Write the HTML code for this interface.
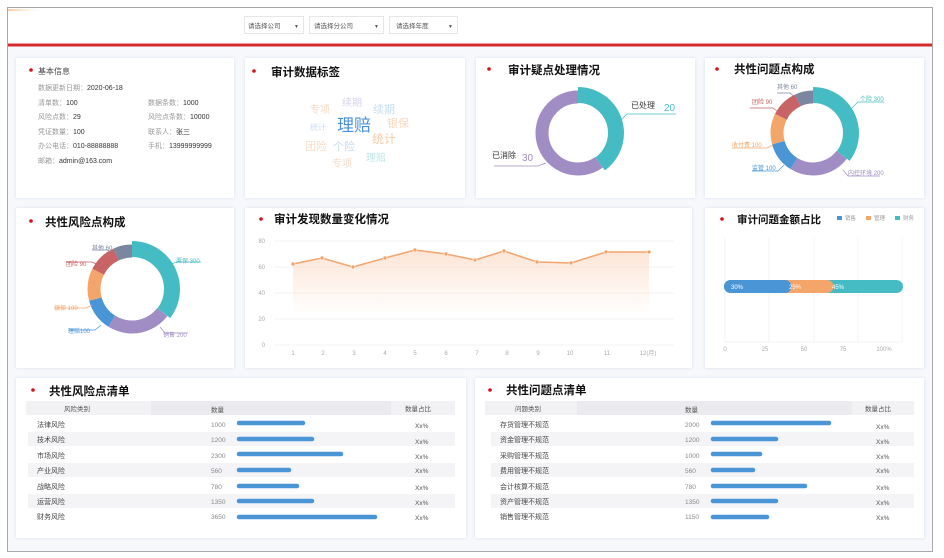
<!DOCTYPE html>
<html><head><meta charset="utf-8"><style>
html,body{margin:0;padding:0;background:#fff;width:944px;height:558px;overflow:hidden}
svg{display:block}
text{font-family:"Liberation Sans","Noto Sans CJK SC",sans-serif}
</style></head><body>
<svg width="944" height="558" viewBox="0 0 944 558" xmlns="http://www.w3.org/2000/svg">
<defs>
<linearGradient id="ag" x1="0" y1="0" x2="0" y2="1"><stop offset="0" stop-color="#f7b58a" stop-opacity="0.35"/><stop offset="1" stop-color="#f7b58a" stop-opacity="0"/></linearGradient>
<linearGradient id="hg" x1="0" y1="0" x2="1" y2="0"><stop offset="0" stop-color="#f6c9a0"/><stop offset="1" stop-color="#fff" stop-opacity="0"/></linearGradient>
<filter id="sh" x="-5%" y="-5%" width="110%" height="110%"><feDropShadow dx="0" dy="0" stdDeviation="1.5" flood-color="#c8d2e8" flood-opacity="0.7"/></filter>
</defs>
<rect x="0" y="0" width="944" height="558" fill="#fff"/>
<rect x="7.5" y="7.5" width="925" height="544" fill="#f7f8fb" stroke="#a8a8a8"/>
<rect x="8" y="8" width="924" height="36" fill="#fff"/>
<rect x="8" y="9" width="40" height="2" fill="url(#hg)"/>
<rect x="8" y="43.5" width="924" height="3" fill="#d42b2f"/>
<!-- selects -->
<g font-size="6.5" fill="#555">
<rect x="244.5" y="16.5" width="59" height="17" fill="#fff" stroke="#e6e6e6"/><text x="248" y="28">请选择公司</text><text x="294" y="28" font-size="5">▼</text>
<rect x="309.5" y="16.5" width="74" height="17" fill="#fff" stroke="#e6e6e6"/><text x="314" y="28">请选择分公司</text><text x="374" y="28" font-size="5">▼</text>
<rect x="389.5" y="16.5" width="68" height="17" fill="#fff" stroke="#e6e6e6"/><text x="396" y="28">请选择年度</text><text x="448" y="28" font-size="5">▼</text>
</g>
<!-- cards -->
<g fill="#fff" filter="url(#sh)">
<rect x="16" y="58" width="218" height="140"/>
<rect x="245" y="58" width="220" height="140"/>
<rect x="476" y="58" width="219" height="140"/>
<rect x="705" y="58" width="219" height="140"/>
<rect x="16" y="208" width="218" height="160"/>
<rect x="245" y="208" width="447" height="160"/>
<rect x="705" y="208" width="219" height="160"/>
<rect x="16" y="378" width="450" height="160"/>
<rect x="475" y="378" width="449" height="160"/>
</g>
<!-- titles -->
<g fill="#d0121b">
<circle cx="31" cy="70" r="1.8"/><circle cx="254" cy="71" r="1.8"/><circle cx="489" cy="69" r="1.8"/><circle cx="717" cy="69" r="1.8"/>
<circle cx="31" cy="221" r="1.8"/><circle cx="261" cy="219" r="1.8"/><circle cx="722" cy="219" r="1.8"/>
<circle cx="33" cy="390" r="1.8"/><circle cx="490" cy="390" r="1.8"/>
</g>
<g font-weight="bold" fill="#111" font-size="11.5">
<text x="271" y="76">审计数据标签</text>
<text x="508" y="74">审计疑点处理情况</text>
<text x="734" y="73">共性问题点构成</text>
<text x="45" y="226">共性风险点构成</text>
<text x="274" y="223">审计发现数量变化情况</text>
<text x="737" y="223" font-size="10.5">审计问题金额占比</text>
<text x="49" y="395">共性风险点清单</text>
<text x="506" y="394">共性问题点清单</text>
</g>
<!-- basic info -->
<g font-size="7" fill="#999">
<text x="38" y="74" font-size="8" fill="#444">基本信息</text>
<text x="38" y="90">数据更新日期：<tspan fill="#333">2020-06-18</tspan></text>
<text x="38" y="105">清单数：<tspan fill="#333">100</tspan></text>
<text x="148" y="105">数据条数：<tspan fill="#333">1000</tspan></text>
<text x="38" y="119">风险点数：<tspan fill="#333">29</tspan></text>
<text x="148" y="119">风险点条数：<tspan fill="#333">10000</tspan></text>
<text x="38" y="134">凭证数量：<tspan fill="#333">100</tspan></text>
<text x="148" y="134">联系人：<tspan fill="#333">张三</tspan></text>
<text x="38" y="148">办公电话：<tspan fill="#333">010-88888888</tspan></text>
<text x="148" y="148">手机：<tspan fill="#333">13999999999</tspan></text>
<text x="38" y="163">邮箱：<tspan fill="#333">admin@163.com</tspan></text>
</g>
<!-- word cloud -->
<g>
<text x="342" y="106" font-size="10" fill="#d7d2ec">续期</text>
<text x="373" y="113" font-size="11" fill="#c6dcf2">续期</text>
<text x="310" y="113" font-size="10" fill="#f8dcc6">专项</text>
<text x="387" y="127" font-size="11" fill="#f8d8c0">银保</text>
<text x="310" y="130" font-size="8" fill="#c9dcf3">统计</text>
<text x="337" y="131" font-size="17" fill="#4a90d9">理赔</text>
<text x="372" y="143" font-size="12" fill="#f6cba8">统计</text>
<text x="305" y="150" font-size="11" fill="#f9dcc6">团险</text>
<text x="333" y="150" font-size="11" fill="#c6dcf3">个险</text>
<text x="366" y="161" font-size="10" fill="#bfe5e6">理赔</text>
<text x="332" y="167" font-size="10" fill="#f9dcc6">专项</text>
</g>
<!-- donut 1 -->
<g transform="translate(578,133) rotate(-90)" fill="none">
<circle r="36" stroke="#a08dc4" stroke-width="13" stroke-dasharray="135.7 226.2" stroke-dashoffset="-90.5"/>
<circle r="38" stroke="#45bcc4" stroke-width="16" stroke-dasharray="95.5 238.8" stroke-dashoffset="0"/>
</g>
<g fill="none" stroke-width="0.8">
<polyline points="619,122 627,114 676,114" stroke="#45bcc4"/>
<polyline points="546,163 538,166 494,166" stroke="#a08dc4"/>
</g>
<text x="631" y="108" font-size="8" fill="#333">已处理</text>
<text x="664" y="111" font-size="10" fill="#45bcc4">20</text>
<text x="492" y="158" font-size="8" fill="#333">已消除</text>
<text x="522" y="161" font-size="10" fill="#a08dc4">30</text>
<!-- donut 2 -->
<g transform="translate(813,133) rotate(-90)" fill="none" stroke-width="13">
<circle r="36" stroke="#a08dc4" stroke-dasharray="53.2 226.2" stroke-dashoffset="-79.8"/>
<circle r="36" stroke="#4a95d6" stroke-dasharray="26.6 226.2" stroke-dashoffset="-133"/>
<circle r="36" stroke="#f4a66a" stroke-dasharray="26.6 226.2" stroke-dashoffset="-159.6"/>
<circle r="36" stroke="#c96466" stroke-dasharray="24 226.2" stroke-dashoffset="-186.2"/>
<circle r="36" stroke="#7b86a0" stroke-dasharray="16 226.2" stroke-dashoffset="-210.2"/>
<circle r="38" stroke="#45bcc4" stroke-width="16" stroke-dasharray="84.3 238.8" stroke-dashoffset="0"/>
</g>
<g fill="none" stroke-width="0.7">
<polyline points="852,108 858,102 884,102" stroke="#45bcc4"/>
<polyline points="843,170 848,176 880,176" stroke="#a08dc4"/>
<polyline points="784,165 778,171 752,171" stroke="#4a95d6"/>
<polyline points="773,145 767,148 732,148" stroke="#f4a66a"/>
<polyline points="778,112 773,108 750,108" stroke="#c96466"/>
<polyline points="795,97 790,93 777,93" stroke="#7b86a0"/>
</g>
<g font-size="6">
<text x="860" y="101" fill="#45bcc4">个险 300</text>
<text x="848" y="175" fill="#a08dc4">内控环境 200</text>
<text x="752" y="170" fill="#4a95d6">监管 100</text>
<text x="732" y="147" fill="#f4a66a">收付费 100</text>
<text x="752" y="104" fill="#c96466">团险 90</text>
<text x="777" y="89" fill="#7b86a0">其他 60</text>
</g>
<!-- donut 3 -->
<g transform="translate(132,289) rotate(-90)" fill="none" stroke-width="13">
<circle r="38" stroke="#a08dc4" stroke-dasharray="56.2 238.8" stroke-dashoffset="-84.3"/>
<circle r="38" stroke="#4a95d6" stroke-dasharray="28.1 238.8" stroke-dashoffset="-140.5"/>
<circle r="38" stroke="#f4a66a" stroke-dasharray="28.1 238.8" stroke-dashoffset="-168.6"/>
<circle r="38" stroke="#c96466" stroke-dasharray="25.3 238.8" stroke-dashoffset="-196.7"/>
<circle r="38" stroke="#7b86a0" stroke-dasharray="16.9 238.8" stroke-dashoffset="-222"/>
<circle r="40" stroke="#45bcc4" stroke-width="16" stroke-dasharray="88.7 251.3" stroke-dashoffset="0"/>
</g>
<g fill="none" stroke-width="0.7">
<polyline points="171,264 177,262 201,262" stroke="#45bcc4"/>
<polyline points="160,327 165,333 188,333" stroke="#a08dc4"/>
<polyline points="101,325 95,330 68,330" stroke="#4a95d6"/>
<polyline points="92,305 86,308 54,308" stroke="#f4a66a"/>
<polyline points="98,265 92,262 66,262" stroke="#c96466"/>
<polyline points="113,252 107,250 92,250" stroke="#7b86a0"/>
</g>
<g font-size="6">
<text x="176" y="263" fill="#45bcc4">渠保 300</text>
<text x="163" y="337" fill="#a08dc4">销售 200</text>
<text x="68" y="333" fill="#4a95d6">理赔100</text>
<text x="54" y="310" fill="#f4a66a">银保 100</text>
<text x="66" y="266" fill="#c96466">团险 90</text>
<text x="92" y="250" fill="#7b86a0">其他 60</text>
</g>
<!-- line chart -->
<g stroke="#eef0f3" stroke-width="0.8">
<line x1="274" y1="241" x2="674" y2="241"/><line x1="274" y1="267" x2="674" y2="267"/><line x1="274" y1="293" x2="674" y2="293"/><line x1="274" y1="319" x2="674" y2="319"/><line x1="274" y1="345" x2="674" y2="345"/>
</g>
<g font-size="6" fill="#aaa" text-anchor="end">
<text x="265" y="243">80</text><text x="265" y="269">60</text><text x="265" y="295">40</text><text x="265" y="321">20</text><text x="265" y="347">0</text>
</g>
<g font-size="6" fill="#aaa" text-anchor="middle">
<text x="293" y="355">1</text><text x="323" y="355">2</text><text x="354" y="355">3</text><text x="385" y="355">4</text><text x="415" y="355">5</text><text x="446" y="355">6</text><text x="477" y="355">7</text><text x="507" y="355">8</text><text x="538" y="355">9</text><text x="570" y="355">10</text><text x="607" y="355">11</text><text x="648" y="355">12(月)</text>
</g>
<polygon fill="url(#ag)" points="293,264 322,258 353,267 385,258 415,250 446,254 475,260 504,251 537,262 571,263 606,252 649,252 649,315 293,315"/>
<polyline fill="none" stroke="#f4a36a" stroke-width="1.5" points="293,264 322,258 353,267 385,258 415,250 446,254 475,260 504,251 537,262 571,263 606,252 649,252"/>
<g fill="#f4a36a" stroke="#fff" stroke-width="0.6">
<circle cx="293" cy="264" r="2"/><circle cx="322" cy="258" r="2"/><circle cx="353" cy="267" r="2"/><circle cx="385" cy="258" r="2"/><circle cx="415" cy="250" r="2"/><circle cx="446" cy="254" r="2"/><circle cx="475" cy="260" r="2"/><circle cx="504" cy="251" r="2"/><circle cx="537" cy="262" r="2"/><circle cx="571" cy="263" r="2"/><circle cx="606" cy="252" r="2"/><circle cx="649" cy="252" r="2"/>
</g>
<!-- bar chart -->
<g stroke="#eef0f3" stroke-width="0.8">
<line x1="725" y1="238" x2="725" y2="342"/><line x1="769" y1="238" x2="769" y2="342"/><line x1="814" y1="238" x2="814" y2="342"/><line x1="858" y1="238" x2="858" y2="342"/><line x1="902" y1="238" x2="902" y2="342"/>
<line x1="725" y1="342" x2="902" y2="342"/>
</g>
<g font-size="6" fill="#aaa" text-anchor="middle">
<text x="725" y="351">0</text><text x="765" y="351">25</text><text x="804" y="351">50</text><text x="843" y="351">75</text><text x="884" y="351">100%</text>
</g>
<g font-size="5.5" fill="#999">
<rect x="837" y="216" width="5" height="4" fill="#4a95d6"/><text x="845" y="220">销售</text>
<rect x="866" y="216" width="5" height="4" fill="#f4a66a"/><text x="874" y="220">管理</text>
<rect x="895" y="216" width="5" height="4" fill="#45bcc4"/><text x="903" y="220">财务</text>
</g>
<rect x="724" y="280" width="179" height="13" rx="6.5" fill="#45bcc4"/>
<path d="M784,280 H827 A6.5,6.5 0 0 1 827,293 H784 Z" fill="#f4a66a"/>
<path d="M730.5,280 H785 A6.5,6.5 0 0 1 785,293 H730.5 A6.5,6.5 0 0 1 730.5,280 Z" fill="#4a95d6"/>
<g font-size="6" fill="#fff"><text x="731" y="289">30%</text><text x="789" y="289">25%</text><text x="832" y="289">45%</text></g>
<!-- left table -->
<rect x="26" y="401" width="429" height="14" fill="#ebebef"/>
<rect x="26" y="401" width="125" height="14" fill="#f2f2f4"/>
<rect x="391" y="401" width="64" height="14" fill="#f2f2f4"/>
<g fill="#f4f4f6">
<rect x="28" y="432" width="427" height="14"/><rect x="28" y="463" width="427" height="14"/><rect x="28" y="494" width="427" height="14"/>
</g>
<g font-size="6.5" fill="#555">
<text x="64" y="411">风险类别</text><text x="211" y="412">数量</text><text x="405" y="411">数量占比</text>
</g>
<g font-size="7" fill="#444">
<text x="37" y="427">法律风险</text><text x="37" y="442">技术风险</text><text x="37" y="458">市场风险</text><text x="37" y="473">产业风险</text><text x="37" y="489">战略风险</text><text x="37" y="504">运营风险</text><text x="37" y="519">财务风险</text>
</g>
<g font-size="6.5" fill="#888">
<text x="211" y="427">1000</text><text x="211" y="442">1200</text><text x="211" y="458">2300</text><text x="211" y="473">560</text><text x="211" y="489">780</text><text x="211" y="504">1350</text><text x="211" y="519">3650</text>
</g>
<g stroke="#4a95d6" stroke-width="4.5" stroke-linecap="round">
<line x1="239" y1="423" x2="303" y2="423"/><line x1="239" y1="439" x2="312" y2="439"/><line x1="239" y1="454" x2="341" y2="454"/><line x1="239" y1="470" x2="289" y2="470"/><line x1="239" y1="486" x2="297" y2="486"/><line x1="239" y1="501" x2="312" y2="501"/><line x1="239" y1="517" x2="375" y2="517"/>
</g>
<g font-size="6.5" fill="#555">
<text x="415" y="428">Xx%</text><text x="415" y="444">Xx%</text><text x="415" y="459">Xx%</text><text x="415" y="473">Xx%</text><text x="415" y="490">Xx%</text><text x="415" y="505">Xx%</text><text x="415" y="520">Xx%</text>
</g>
<!-- right table -->
<rect x="485" y="401" width="429" height="14" fill="#ebebef"/>
<rect x="485" y="401" width="92" height="14" fill="#f2f2f4"/>
<rect x="852" y="401" width="62" height="14" fill="#f2f2f4"/>
<g fill="#f4f4f6">
<rect x="491" y="432" width="423" height="14"/><rect x="491" y="463" width="423" height="14"/><rect x="491" y="494" width="423" height="14"/>
</g>
<g font-size="6.5" fill="#555">
<text x="515" y="411">问题类别</text><text x="685" y="412">数量</text><text x="865" y="411">数量占比</text>
</g>
<g font-size="7" fill="#444">
<text x="500" y="427">存货管理不规范</text><text x="500" y="442">资金管理不规范</text><text x="500" y="458">采购管理不规范</text><text x="500" y="473">费用管理不规范</text><text x="500" y="489">会计核算不规范</text><text x="500" y="504">资产管理不规范</text><text x="500" y="519">销售管理不规范</text>
</g>
<g font-size="6.5" fill="#888">
<text x="685" y="427">2000</text><text x="685" y="442">1200</text><text x="685" y="458">1000</text><text x="685" y="473">560</text><text x="685" y="489">780</text><text x="685" y="504">1350</text><text x="685" y="519">1150</text>
</g>
<g stroke="#4a95d6" stroke-width="4.5" stroke-linecap="round">
<line x1="713" y1="423" x2="829" y2="423"/><line x1="713" y1="439" x2="776" y2="439"/><line x1="713" y1="454" x2="760" y2="454"/><line x1="713" y1="470" x2="753" y2="470"/><line x1="713" y1="486" x2="805" y2="486"/><line x1="713" y1="501" x2="776" y2="501"/><line x1="713" y1="517" x2="767" y2="517"/>
</g>
<g font-size="6.5" fill="#555">
<text x="876" y="429">Xx%</text><text x="876" y="444">Xx%</text><text x="876" y="459">Xx%</text><text x="876" y="473">Xx%</text><text x="876" y="490">Xx%</text><text x="876" y="505">Xx%</text><text x="876" y="520">Xx%</text>
</g>
</svg>
</body></html>
